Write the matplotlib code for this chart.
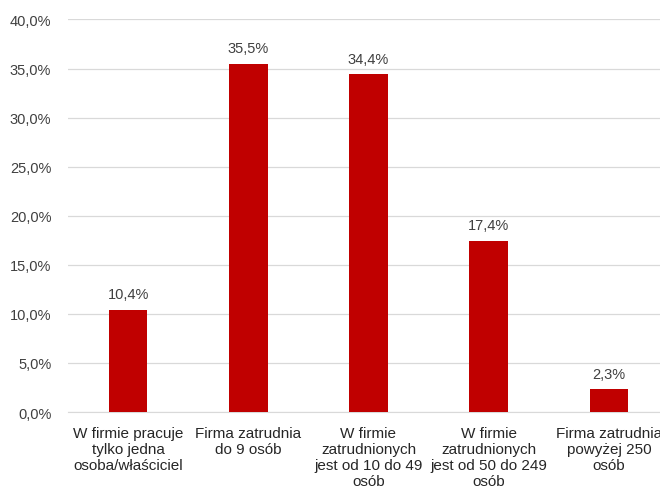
import numpy as np
import matplotlib.pyplot as plt

plt.rcParams['font.family'] = ['Liberation Sans', 'DejaVu Sans']

categories = [
    "W firmie pracuje\ntylko jedna\nosoba/właściciel",
    "Firma zatrudnia\ndo 9 osób",
    "W firmie\nzatrudnionych\njest od 10 do 49\nosób",
    "W firmie\nzatrudnionych\njest od 50 do 249\nosób",
    "Firma zatrudnia\npowyżej 250\nosób",
]
values = [10.4, 35.5, 34.4, 17.4, 2.3]
yticks = [0, 5, 10, 15, 20, 25, 30, 35, 40]

fig = plt.figure(figsize=(6.6, 4.89), dpi=100)
ax = fig.add_axes([0.103, 0.1554, 0.9106, 0.8027])

x = np.arange(len(values))
ax.bar(x, values, width=0.32, color="#C00000", zorder=3)

for xi, v in zip(x, values):
    ax.text(xi, v + 0.9, f"{v:.1f}%".replace(".", ","), ha="center", va="bottom",
            fontsize=10.5, color="#404040")

ax.set_xlim(-0.5, len(values) - 0.5)
ax.set_ylim(0, 40)
ax.set_yticks(yticks)
ax.set_yticklabels([f"{t:.1f}%".replace(".", ",") for t in yticks])
ax.set_xticks(x)
ax.set_xticklabels(categories, linespacing=1.2, fontsize=11, color="#262626")

ax.grid(axis="y", color="#D9D9D9", linewidth=0.9, zorder=0)
for s in ["top", "right", "left"]:
    ax.spines[s].set_visible(False)
ax.spines["bottom"].set_color("#D9D9D9")
ax.tick_params(axis="both", length=0, labelsize=10.5, colors="#404040")
ax.tick_params(axis="x", labelsize=11, labelcolor="#262626", pad=10)
ax.tick_params(axis="y", pad=12)

fig.savefig("out.png", dpi=100)
